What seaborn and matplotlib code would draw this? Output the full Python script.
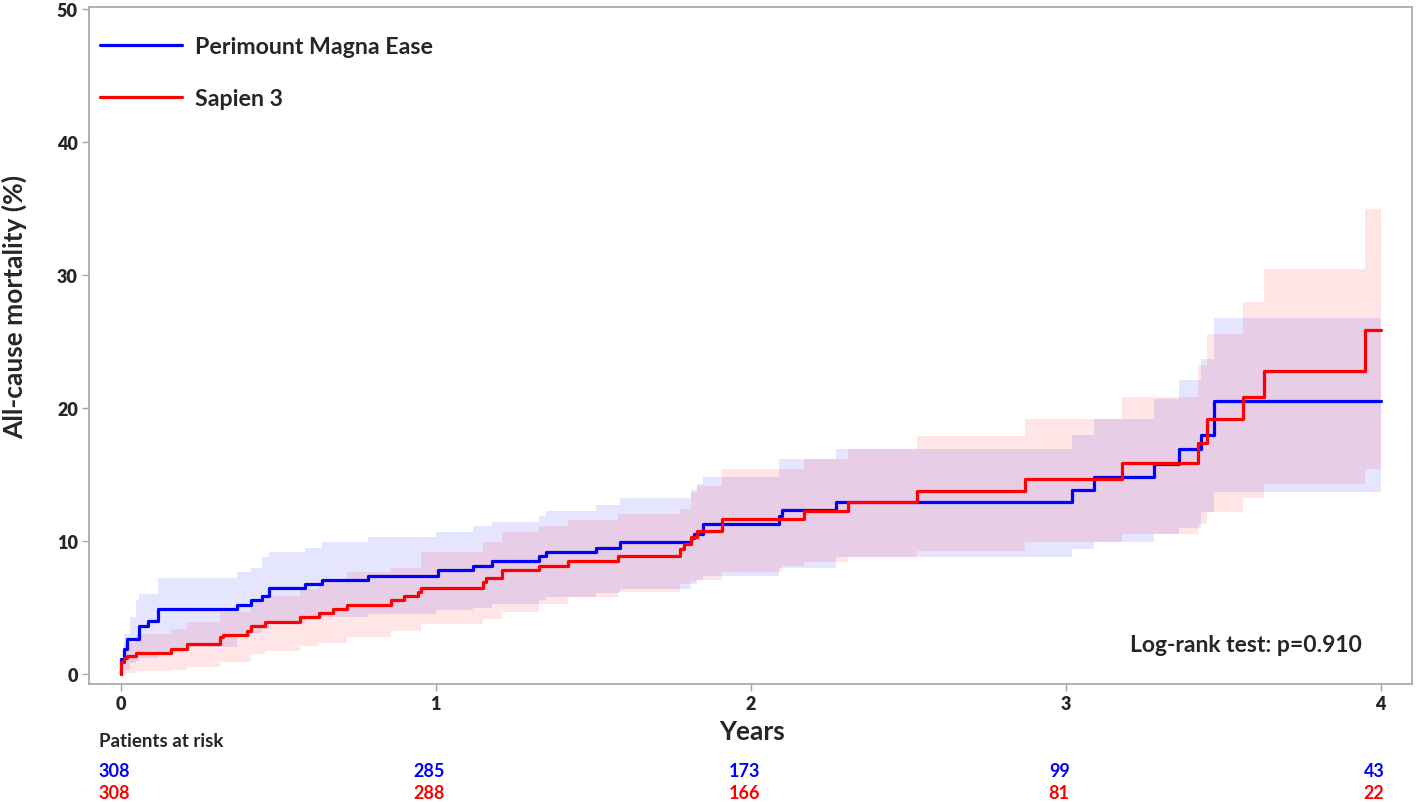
import numpy as np
import pandas as pd
import matplotlib
matplotlib.use("Agg")
import matplotlib.pyplot as plt
import seaborn as sns

# Kaplan-Meier style cumulative mortality (years, %)
pme_t = [0, 0.003, 0.01, 0.02, 0.06, 0.086, 0.12, 0.37, 0.415, 0.45,
         0.47, 0.585, 0.64, 0.785, 1.007, 1.12, 1.18, 1.33, 1.35, 1.51,
         1.585, 1.81, 1.82, 1.85, 2.09, 2.10, 2.27, 3.02, 3.09, 3.28,
         3.36, 3.43, 3.47, 4.0]
pme_y = [0, 1.1, 1.9, 2.6, 3.6, 4.0, 4.9, 5.2, 5.6, 5.9,
         6.5, 6.8, 7.1, 7.4, 7.8, 8.1, 8.5, 8.9, 9.2, 9.5,
         9.9, 10.2, 10.5, 11.3, 11.9, 12.3, 12.9, 13.8, 14.8, 15.8,
         16.9, 18.0, 20.5, 20.5]

s3_t = [0, 0.003, 0.01, 0.02, 0.05, 0.16, 0.21, 0.315, 0.325, 0.40,
        0.415, 0.46, 0.57, 0.63, 0.675, 0.72, 0.86, 0.90, 0.945, 0.955,
        1.15, 1.16, 1.21, 1.33, 1.42, 1.58, 1.775, 1.79, 1.81, 1.83,
        1.91, 2.17, 2.31, 2.53, 2.87, 3.18, 3.42, 3.45, 3.565, 3.63,
        3.95, 4.0]
s3_y = [0, 0.9, 1.2, 1.35, 1.6, 1.9, 2.25, 2.8, 2.9, 3.2,
        3.6, 3.9, 4.3, 4.6, 4.9, 5.2, 5.6, 5.9, 6.2, 6.5,
        6.9, 7.2, 7.8, 8.1, 8.5, 8.9, 9.4, 9.8, 10.3, 10.75,
        11.65, 12.25, 12.9, 13.75, 14.7, 15.85, 17.4, 19.2, 20.8, 22.8,
        25.9, 25.9]

# confidence bands
pme_ci_t = [0, 0.01, 0.03, 0.05, 0.06, 0.12, 0.2, 0.37, 0.415, 0.45,
            0.47, 0.585, 0.64, 0.785, 1.0, 1.12, 1.18, 1.33, 1.35, 1.51,
            1.585, 1.81, 1.83, 1.85, 2.09, 2.27, 3.02, 3.09, 3.28, 3.36,
            3.43, 3.47, 4.0]
pme_lo = [0, 0.3, 0.8, 1.0, 1.2, 1.6, 2.0, 2.8, 3.1, 3.4,
          3.8, 4.1, 4.3, 4.5, 4.8, 5.0, 5.3, 5.6, 5.8, 6.1,
          6.4, 6.8, 7.1, 7.4, 8.0, 8.8, 9.4, 9.9, 10.5, 11.0,
          12.2, 13.7, 13.7]
pme_hi = [0, 3.0, 4.3, 5.6, 6.0, 7.2, 7.2, 7.7, 8.0, 8.8,
          9.2, 9.5, 9.9, 10.3, 10.7, 11.1, 11.4, 11.9, 12.25, 12.7,
          13.2, 13.8, 14.3, 14.8, 16.2, 16.9, 18.0, 19.2, 20.7, 22.1,
          23.7, 26.8, 26.8]

s3_ci_t = [0, 0.01, 0.05, 0.16, 0.21, 0.315, 0.415, 0.46, 0.57, 0.63,
           0.72, 0.86, 0.955, 1.15, 1.21, 1.33, 1.42, 1.58, 1.775, 1.81,
           1.83, 1.91, 2.10, 2.17, 2.31, 2.53, 2.87, 3.18, 3.42, 3.45,
           3.565, 3.63, 3.95, 4.0]
s3_lo = [0, 0.1, 0.2, 0.3, 0.5, 0.9, 1.5, 1.7, 2.1, 2.3,
         2.8, 3.2, 3.75, 4.1, 4.7, 5.3, 5.8, 6.2, 6.8, 7.0,
         7.1, 7.7, 8.1, 8.4, 8.8, 9.25, 9.9, 10.5, 11.3, 12.2,
         13.2, 14.3, 15.4, 15.4]
s3_hi = [0, 2.4, 3.0, 3.4, 3.9, 4.7, 5.4, 5.9, 6.4, 6.9,
         7.7, 8.0, 9.2, 9.9, 10.7, 11.1, 11.6, 12.0, 12.4, 13.7,
         14.1, 15.4, 15.4, 16.2, 16.9, 17.9, 19.2, 20.8, 23.2, 25.6,
         28.0, 30.45, 35.0, 35.0]

risk_years = [0, 1, 2, 3, 4]
pme_risk = [308, 285, 173, 99, 43]
s3_risk = [308, 288, 166, 81, 22]

groups = ["Perimount Magna Ease", "Sapien 3"]
colors = {"Perimount Magna Ease": "#0000ff", "Sapien 3": "#ff0000"}

sns.set_style("white")
plt.rcParams["font.family"] = ["Lato", "DejaVu Sans"]
plt.rcParams["font.weight"] = "bold"

df = pd.concat([
    pd.DataFrame({"Years": pme_t, "Mortality": pme_y, "Group": groups[0]}),
    pd.DataFrame({"Years": s3_t, "Mortality": s3_y, "Group": groups[1]}),
])

fig = plt.figure(figsize=(14.18, 8.03), dpi=100)
ax = fig.add_axes([89 / 1418, 118 / 803, 1323 / 1418, 677 / 803])

# bands first
ax.fill_between(pme_ci_t, pme_lo, pme_hi, step="post", color="#0000ff",
                alpha=0.1, lw=0)
ax.fill_between(s3_ci_t, s3_lo, s3_hi, step="post", color="#ff0000",
                alpha=0.1, lw=0)

sns.lineplot(data=df, x="Years", y="Mortality", hue="Group",
             palette=colors, estimator=None, drawstyle="steps-post",
             lw=2.3, ax=ax, legend=False)

# legend
for g in groups:
    ax.plot([], [], color=colors[g], lw=2.3, label=g)
ax.legend(loc="upper left", bbox_to_anchor=(0.008, 0.957), frameon=False,
          fontsize=16.7, handlelength=3.55, handletextpad=0.58,
          labelspacing=1.33, borderpad=0, borderaxespad=0)

ax.set_xlim(-0.1, 4.1)
ax.set_ylim(-0.75, 50.15)
ax.set_xticks(risk_years)
ax.set_yticks([0, 10, 20, 30, 40, 50])
ax.tick_params(axis="both", which="major", direction="out", length=5,
               width=1, color="#a6a6a6", labelsize=13, pad=3,
               bottom=True, left=True)
for lab in ax.get_xticklabels() + ax.get_yticklabels():
    lab.set_fontweight("heavy")
for sp in ax.spines.values():
    sp.set_color("#a6a6a6")
    sp.set_linewidth(1.2)

ax.set_xlabel("Years", fontsize=19, fontweight="bold")
ax.xaxis.set_label_coords(0.501, -0.051)
ax.set_ylabel("All-cause mortality (%)", fontsize=19, fontweight="bold")
ax.yaxis.set_label_coords(-0.047, 0.558)

ax.text(0.962, 0.059, "Log-rank test: p=0.910", transform=ax.transAxes,
        ha="right", va="center", fontsize=16.5, fontweight="bold")

# patients at risk table
tr = ax.get_xaxis_transform()
ax.text(-0.067, -0.084, "Patients at risk", transform=tr, ha="left",
        va="center", fontsize=13.5, fontweight="bold", clip_on=False)
for x, a, b in zip(risk_years, pme_risk, s3_risk):
    ax.text(x - 0.02, -0.1285, str(a), transform=tr, ha="center",
            va="center", fontsize=13, fontweight="bold",
            color="#0000ff", clip_on=False)
    ax.text(x - 0.02, -0.161, str(b), transform=tr, ha="center",
            va="center", fontsize=13, fontweight="bold",
            color="#ff0000", clip_on=False)

fig.savefig("out.png", dpi=100)
